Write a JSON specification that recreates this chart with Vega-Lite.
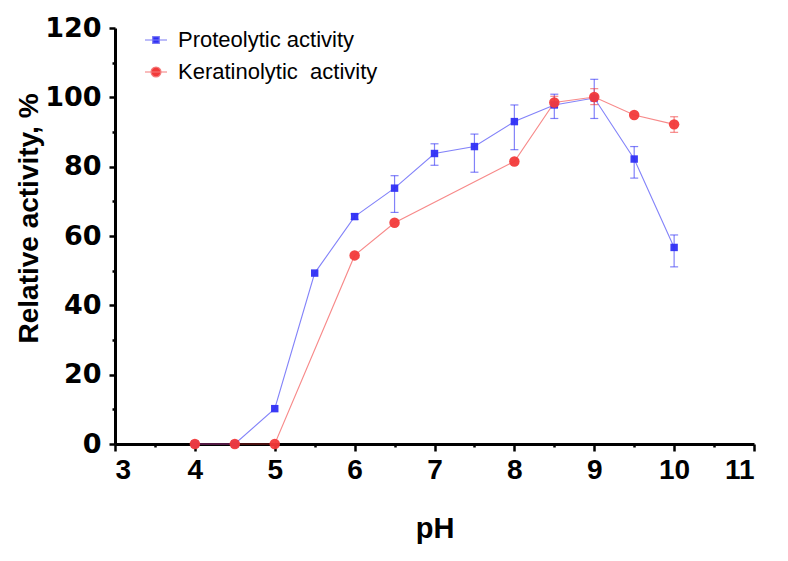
{
  "$schema": "https://vega.github.io/schema/vega-lite/v6.json",
  "width": 639,
  "height": 416,
  "autosize": {"type": "none"},
  "padding": {"left": 115, "top": 28, "right": 34, "bottom": 117},
  "background": "white",
  "config": {
    "view": {"stroke": null},
    "font": "Liberation Sans"
  },
  "data": {
    "values": [
      {"series": "Proteolytic activity", "pH": 4, "act": 0, "lo": null, "hi": null},
      {"series": "Proteolytic activity", "pH": 4.5, "act": 0, "lo": null, "hi": null},
      {"series": "Proteolytic activity", "pH": 5, "act": 10.2, "lo": null, "hi": null},
      {"series": "Proteolytic activity", "pH": 5.5, "act": 49.3, "lo": null, "hi": null},
      {"series": "Proteolytic activity", "pH": 6, "act": 65.6, "lo": 64.8, "hi": 66.4},
      {"series": "Proteolytic activity", "pH": 6.5, "act": 73.8, "lo": 66.8, "hi": 77.4},
      {"series": "Proteolytic activity", "pH": 7, "act": 83.8, "lo": 80.4, "hi": 86.6},
      {"series": "Proteolytic activity", "pH": 7.5, "act": 85.8, "lo": 78.4, "hi": 89.4},
      {"series": "Proteolytic activity", "pH": 8, "act": 93.0, "lo": 84.9, "hi": 97.8},
      {"series": "Proteolytic activity", "pH": 8.5, "act": 97.8, "lo": 93.9, "hi": 100.9},
      {"series": "Proteolytic activity", "pH": 9, "act": 99.8, "lo": 93.9, "hi": 105.2},
      {"series": "Proteolytic activity", "pH": 9.5, "act": 82.2, "lo": 76.7, "hi": 85.8},
      {"series": "Proteolytic activity", "pH": 10, "act": 56.7, "lo": 51.1, "hi": 60.3},
      {"series": "Keratinolytic\u00a0 activity", "pH": 4, "act": 0, "lo": null, "hi": null},
      {"series": "Keratinolytic\u00a0 activity", "pH": 4.5, "act": 0, "lo": null, "hi": null},
      {"series": "Keratinolytic\u00a0 activity", "pH": 5, "act": 0, "lo": null, "hi": null},
      {"series": "Keratinolytic\u00a0 activity", "pH": 6, "act": 54.4, "lo": null, "hi": null},
      {"series": "Keratinolytic\u00a0 activity", "pH": 6.5, "act": 63.8, "lo": null, "hi": null},
      {"series": "Keratinolytic\u00a0 activity", "pH": 8, "act": 81.5, "lo": null, "hi": null},
      {"series": "Keratinolytic\u00a0 activity", "pH": 8.5, "act": 98.5, "lo": 97.2, "hi": 100.3},
      {"series": "Keratinolytic\u00a0 activity", "pH": 9, "act": 100.1, "lo": 97.9, "hi": 102.5},
      {"series": "Keratinolytic\u00a0 activity", "pH": 9.5, "act": 94.9, "lo": null, "hi": null},
      {"series": "Keratinolytic\u00a0 activity", "pH": 10, "act": 92.2, "lo": 89.9, "hi": 94.4}
    ]
  },
  "encoding": {
    "x": {
      "field": "pH",
      "type": "quantitative",
      "scale": {"domain": [3, 11], "nice": false, "zero": false},
      "axis": {
        "title": "pH",
        "values": [3, 3.5, 4, 4.5, 5, 5.5, 6, 6.5, 7, 7.5, 8, 8.5, 9, 9.5, 10, 10.5, 11],
        "labelExpr": "datum.value % 1 == 0 ? datum.value : ''",
        "labelOverlap": false,
        "labelFontSize": 28,
        "labelFontWeight": "bold",
        "labelColor": "black",
        "labelPadding": 5,
        "tickSize": {"condition": {"test": "datum.value % 1 != 0", "value": 3}, "value": 7},
        "tickWidth": 2.5,
        "tickColor": "black",
        "domainColor": "black",
        "domainWidth": 3,
        "grid": false,
        "titleFontSize": 29,
        "titleFontWeight": "bold",
        "titleColor": "black",
        "titleBaseline": "alphabetic",
        "titleY": 93
      }
    },
    "y": {
      "field": "act",
      "type": "quantitative",
      "scale": {"domain": [0, 120], "nice": false},
      "axis": {
        "title": "Relative activity, %",
        "values": [0, 10, 20, 30, 40, 50, 60, 70, 80, 90, 100, 110, 120],
        "labelExpr": "datum.value % 20 == 0 ? datum.value : ''",
        "labelOverlap": false,
        "labelFont": "DejaVu Sans",
        "labelFontSize": 27,
        "labelFontWeight": "bold",
        "labelColor": "black",
        "labelPadding": 8,
        "tickSize": {"condition": {"test": "datum.value % 20 != 0", "value": 3}, "value": 6},
        "tickWidth": 2.5,
        "tickColor": "black",
        "domainColor": "black",
        "domainWidth": 3,
        "grid": false,
        "titleFontSize": 28,
        "titleFontWeight": "bold",
        "titleColor": "black",
        "titleAngle": -90,
        "titleAlign": "center",
        "titleBaseline": "middle",
        "titleX": -86,
        "titleY": 190
      }
    }
  },
  "layer": [
    {
      "mark": {"type": "point", "filled": true, "opacity": 0},
      "encoding": {
        "fill": {
          "field": "series", "type": "nominal",
          "scale": {"domain": ["Proteolytic activity", "Keratinolytic\u00a0 activity"], "range": ["#2f2ff5", "#f23a3a"]},
          "legend": {"title": null, "orient": "none", "legendX": 29, "legendY": 0, "labelFontSize": 22, "labelColor": "black", "labelLimit": 400, "labelOffset": 10, "rowPadding": 9, "symbolSize": 484, "symbolStrokeWidth": 1.2, "symbolOpacity": 1}
        },
        "stroke": {
          "field": "series", "type": "nominal",
          "scale": {"domain": ["Proteolytic activity", "Keratinolytic\u00a0 activity"], "range": ["#7b7bf3", "#f37b7b"]},
          "legend": {"title": null, "orient": "none", "legendX": 29, "legendY": 0, "labelFontSize": 22, "labelColor": "black", "labelLimit": 400, "labelOffset": 10, "rowPadding": 9, "symbolSize": 484, "symbolStrokeWidth": 1.2, "symbolOpacity": 1}
        },
        "shape": {
          "field": "series", "type": "nominal",
          "scale": {"domain": ["Proteolytic activity", "Keratinolytic\u00a0 activity"], "range": ["M-1,0H1M-0.3,-0.3H0.3V0.3H-0.3Z", "M-1,0H1M-0.45,0A0.45,0.45 0 1,0 0.45,0A0.45,0.45 0 1,0 -0.45,0Z"]},
          "legend": {"title": null, "orient": "none", "legendX": 29, "legendY": 0, "labelFontSize": 22, "labelColor": "black", "labelLimit": 400, "labelOffset": 10, "rowPadding": 9, "symbolSize": 484, "symbolStrokeWidth": 1.2, "symbolOpacity": 1}
        }
      }
    },
    {
      "mark": {"type": "line", "strokeWidth": 1.1, "opacity": 0.6},
      "encoding": {
        "color": {"field": "series", "type": "nominal", "legend": null,
          "scale": {"domain": ["Proteolytic activity", "Keratinolytic\u00a0 activity"], "range": ["#2f2ff5", "#f23a3a"]}},
        "detail": {"field": "series"}
      }
    },
    {
      "transform": [{"filter": "datum.lo != null"}],
      "mark": {"type": "rule", "strokeWidth": 1.2, "opacity": 0.6},
      "encoding": {
        "color": {"field": "series", "type": "nominal", "legend": null},
        "y": {"field": "lo", "type": "quantitative"}, "y2": {"field": "hi"}
      }
    },
    {
      "transform": [{"filter": "datum.lo != null"}],
      "mark": {"type": "tick", "orient": "horizontal", "size": 8, "thickness": 1.2, "opacity": 0.6},
      "encoding": {
        "color": {"field": "series", "type": "nominal", "legend": null},
        "y": {"field": "lo", "type": "quantitative"}
      }
    },
    {
      "transform": [{"filter": "datum.lo != null"}],
      "mark": {"type": "tick", "orient": "horizontal", "size": 8, "thickness": 1.2, "opacity": 0.6},
      "encoding": {
        "color": {"field": "series", "type": "nominal", "legend": null},
        "y": {"field": "hi", "type": "quantitative"}
      }
    },
    {
      "transform": [{"filter": "datum.series == 'Proteolytic activity'"}],
      "mark": {"type": "point", "filled": true, "opacity": 0.95, "shape": "square", "size": 55},
      "encoding": {
        "color": {"field": "series", "type": "nominal", "legend": null}
      }
    },
    {
      "transform": [{"filter": "datum.series != 'Proteolytic activity'"}],
      "mark": {"type": "point", "filled": true, "opacity": 0.95, "shape": "circle", "size": 110},
      "encoding": {
        "color": {"field": "series", "type": "nominal", "legend": null}
      }
    }
  ]
}
